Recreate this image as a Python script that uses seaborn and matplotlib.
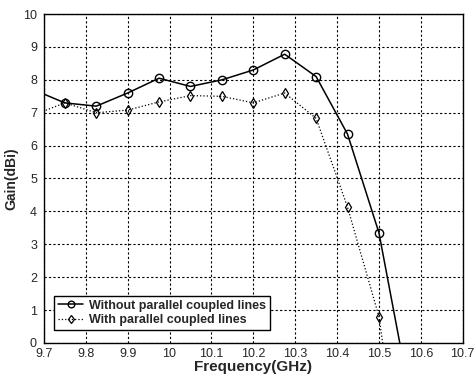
import numpy as np
import pandas as pd
import matplotlib
matplotlib.use("Agg")
import matplotlib.pyplot as plt
import seaborn as sns

# Data (points outside the axes are clipped)
freq = [9.675, 9.75, 9.825, 9.9, 9.975, 10.05, 10.125, 10.2, 10.275, 10.35, 10.425, 10.5, 10.575]
gain_without = [7.7, 7.3, 7.2, 7.6, 8.05, 7.8, 8.0, 8.3, 8.78, 8.1, 6.35, 3.35, -1.7]
gain_with = [6.93, 7.3, 7.0, 7.08, 7.33, 7.52, 7.5, 7.3, 7.6, 6.83, 4.13, 0.8, -5.9]
xticks = [9.7, 9.8, 9.9, 10.0, 10.1, 10.2, 10.3, 10.4, 10.5, 10.6, 10.7]
xtick_labels = ["9.7", "9.8", "9.9", "10", "10.1", "10.2", "10.3", "10.4", "10.5", "10.6", "10.7"]

df = pd.DataFrame({"freq": freq, "without": gain_without, "with": gain_with})

sns.set_style("white")
plt.rcParams["font.family"] = ["Liberation Sans", "DejaVu Sans"]

fig = plt.figure(figsize=(4.77, 3.81), dpi=100)
ax = fig.add_axes([0.092, 0.1, 0.878, 0.863])

sns.lineplot(data=df, x="freq", y="without", ax=ax, color="black", linewidth=1.1,
             marker="o", markersize=6, markerfacecolor="none", markeredgecolor="black",
             markeredgewidth=1.0, label="Without parallel coupled lines")
sns.lineplot(data=df, x="freq", y="with", ax=ax, color="black", linewidth=0.9,
             linestyle=":", marker="d", markersize=5.5, markerfacecolor="none",
             markeredgecolor="black", markeredgewidth=0.9,
             label="With parallel coupled lines")

ax.set_xlim(9.7, 10.7)
ax.set_ylim(0, 10)
ax.set_xticks(xticks)
ax.set_xticklabels(xtick_labels)
ax.set_yticks(range(0, 11))
ax.tick_params(labelsize=9, length=0)
ax.tick_params(axis="x", pad=4)
ax.tick_params(axis="y", pad=5)
ax.grid(True, color="black", linestyle=(0, (2, 2)), linewidth=0.8)

for s in ax.spines.values():
    s.set_color("black")
    s.set_linewidth(1.0)

ax.set_xlabel("Frequency(GHz)", fontsize=11, fontweight="bold", labelpad=0)
ax.set_ylabel("Gain(dBi)", fontsize=10, fontweight="bold", labelpad=3)

leg = ax.legend(loc="lower left", bbox_to_anchor=(0.01, 0.02), frameon=True, fancybox=False,
                edgecolor="black", framealpha=1, prop={"weight": "bold", "size": 9},
                borderpad=0.3, labelspacing=0.2, handlelength=2.0, handletextpad=0.5,
                markerscale=0.8)
leg.get_frame().set_linewidth(1.0)

fig.savefig("out.png", dpi=100)
